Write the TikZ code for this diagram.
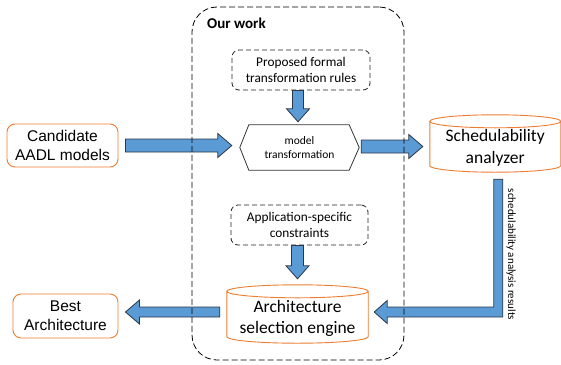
\documentclass[tikz,border=0pt]{standalone}
\usepackage{fontspec}
\setmainfont{Carlito}
\newfontfamily\arialfont{Liberation Sans}
\usetikzlibrary{calc}

\definecolor{arrowblue}{RGB}{91,155,213}
\definecolor{arrowedge}{RGB}{45,55,70}
\definecolor{boxorange}{RGB}{237,125,49}
\definecolor{dashgray}{RGB}{35,35,35}

\tikzset{
  blockarrow/.style={fill=arrowblue, draw=arrowedge, line width=0.8pt, line join=miter},
  orangebox/.style={draw=boxorange, line width=0.9pt, rounded corners=8pt,
    align=center, inner sep=0pt, font=\arialfont\fontsize{15.5}{19}\selectfont},
  dashbox/.style={draw=dashgray, dash pattern=on 5pt off 3pt, line width=0.8pt,
    rounded corners=7pt, align=center, inner sep=0pt, font=\fontsize{13.3}{15.5}\selectfont},
  drumline/.style={draw=boxorange, line width=0.9pt},
  drumbox/.style={inner sep=0pt},
  drumtext/.style={align=center, inner sep=0pt, font=\fontsize{17.5}{21.5}\selectfont},
}

% horizontal block arrow from #1 to #2 (at the height of #1), shaft half-width #3
\newcommand\hblock[3]{%
  \draw[blockarrow] let \p1=(#1), \p2=(#2), \n1={(\x2>\x1)*2-1} in
    (\x1,\y1+#3) -- (\x2-\n1*14pt,\y1+#3) -- (\x2-\n1*14pt,\y1+12pt) -- (\x2,\y1)
    -- (\x2-\n1*14pt,\y1-12pt) -- (\x2-\n1*14pt,\y1-#3) -- (\x1,\y1-#3) -- cycle;}

% vertical block arrow from #1 to #2 (at the abscissa of #1), shaft half-width #3
\newcommand\vblock[3]{%
  \draw[blockarrow] let \p1=(#1), \p2=(#2), \n1={(\y2>\y1)*2-1} in
    (\x1+#3,\y1) -- (\x1+#3,\y2-\n1*13pt) -- (\x1+11.5pt,\y2-\n1*13pt) -- (\x1,\y2)
    -- (\x1-11.5pt,\y2-\n1*13pt) -- (\x1-#3,\y2-\n1*13pt) -- (\x1-#3,\y1) -- cycle;}

% cylinder outline drawn around the box of node #1
\newcommand\drum[1]{%
  \draw[drumline] let \p1=(#1.north west), \p2=(#1.south east), \n1={(\x2-\x1)/2} in
    (\x1,\y1-6.5pt) -- (\x1,\y2+6.5pt)
    arc[start angle=180, end angle=360, x radius=\n1, y radius=6.5pt]
    -- (\x2,\y1-6.5pt)
    ({(\x1+\x2)/2},\y1-6.5pt) ellipse[x radius=\n1, y radius=6.5pt];}

\begin{document}
\begin{tikzpicture}[x=1pt, y=-1pt]
  \useasboundingbox (0,0) rectangle (561,364);

  \node[anchor=base west, inner sep=0pt, font=\bfseries\fontsize{15}{18}\selectfont]
        (ourwork) at (207,28) {Our work};

  % inputs and outputs
  \node[orangebox, minimum width=111pt, minimum height=43pt] (cand) at (62.5,145.5)
        {Candidate\\AADL models};
  \node[orangebox, minimum width=105pt, minimum height=44pt] (best) at (65.5,316)
        {Best\\Architecture};

  % dashed input boxes
  \node[dashbox, minimum width=138pt, minimum height=40pt] (rules) at (301,70)
        {Proposed formal\\transformation rules};
  \node[dashbox, minimum width=137pt, minimum height=40pt] (cons) at (299.5,225)
        {Application-specific\\constraints};

  % hexagonal transformation step
  \node[align=center, inner sep=0pt, minimum width=119pt, minimum height=45pt,
        font=\fontsize{11.5}{14}\selectfont] (hex) at (299.5,147.5) {model\\transformation};
  \draw[line width=0.8pt, draw=black!80]
    (hex.west) -- ($(hex.north west)+(9,0)$) -- ($(hex.north east)+(-10,0)$) -- (hex.east)
    -- ($(hex.south east)+(-10,0)$) -- ($(hex.south west)+(9,0)$) -- cycle;

  % cylinders
  \node[drumbox, minimum width=130.5pt, minimum height=57pt] (sched) at (495.25,143.5) {};
  \drum{sched}
  \node[drumtext] (schedtext) at ($(sched.center)+(0,4.5)$) {Schedulability\\analyzer};

  \node[drumbox, minimum width=141pt, minimum height=58pt] (ase) at (297.5,314) {};
  \drum{ase}
  \node[drumtext] (asetext) at ($(ase.center)+(0,4.5)$) {Architecture\\selection engine};

  % block arrows
  \hblock{$(cand.east)+(7,0)$}{$(hex.west)+(-8,-1.5)$}{6.5pt}
  \hblock{$(hex.east)+(2,-1)$}{$(sched.west)+(-7,0)$}{6.5pt}
  \vblock{$(rules.south)+(-3,0)$}{$(hex.north)+(-2,-3)$}{5.5pt}
  \vblock{$(cons.south)+(-2,0)$}{$(ase.north)+(0,-6)$}{6pt}
  \hblock{$(ase.west)+(-7,-2)$}{$(best.east)+(7,0)$}{5pt}

  % results fed back from the analyzer
  \draw[blockarrow] let \p1=($(sched.south)+(3,7)$), \p2=($(ase.east)+(6,-2)$) in
    (\x1-4.5pt,\y1) -- (\x1-4.5pt,\y2+5pt) -- (\x2+13pt,\y2+5pt) -- (\x2+13pt,\y2+11.5pt)
    -- (\x2,\y2) -- (\x2+13pt,\y2-11.5pt) -- (\x2+13pt,\y2-5pt) -- (\x1+4.5pt,\y2-5pt)
    -- (\x1+4.5pt,\y1) -- cycle;
  \node[rotate=-90, inner sep=0pt, font=\fontsize{11}{13}\selectfont] (reslabel)
        at (511,254.5) {schedulability analysis results};

  % frame of our contribution, drawn over the arrows crossing it
  \node[draw=black, dash pattern=on 6pt off 3pt, line width=0.8pt, rounded corners=25pt,
        minimum width=212pt, minimum height=353pt, inner sep=0pt] (work) at (298,183.5) {};
\end{tikzpicture}
\end{document}
